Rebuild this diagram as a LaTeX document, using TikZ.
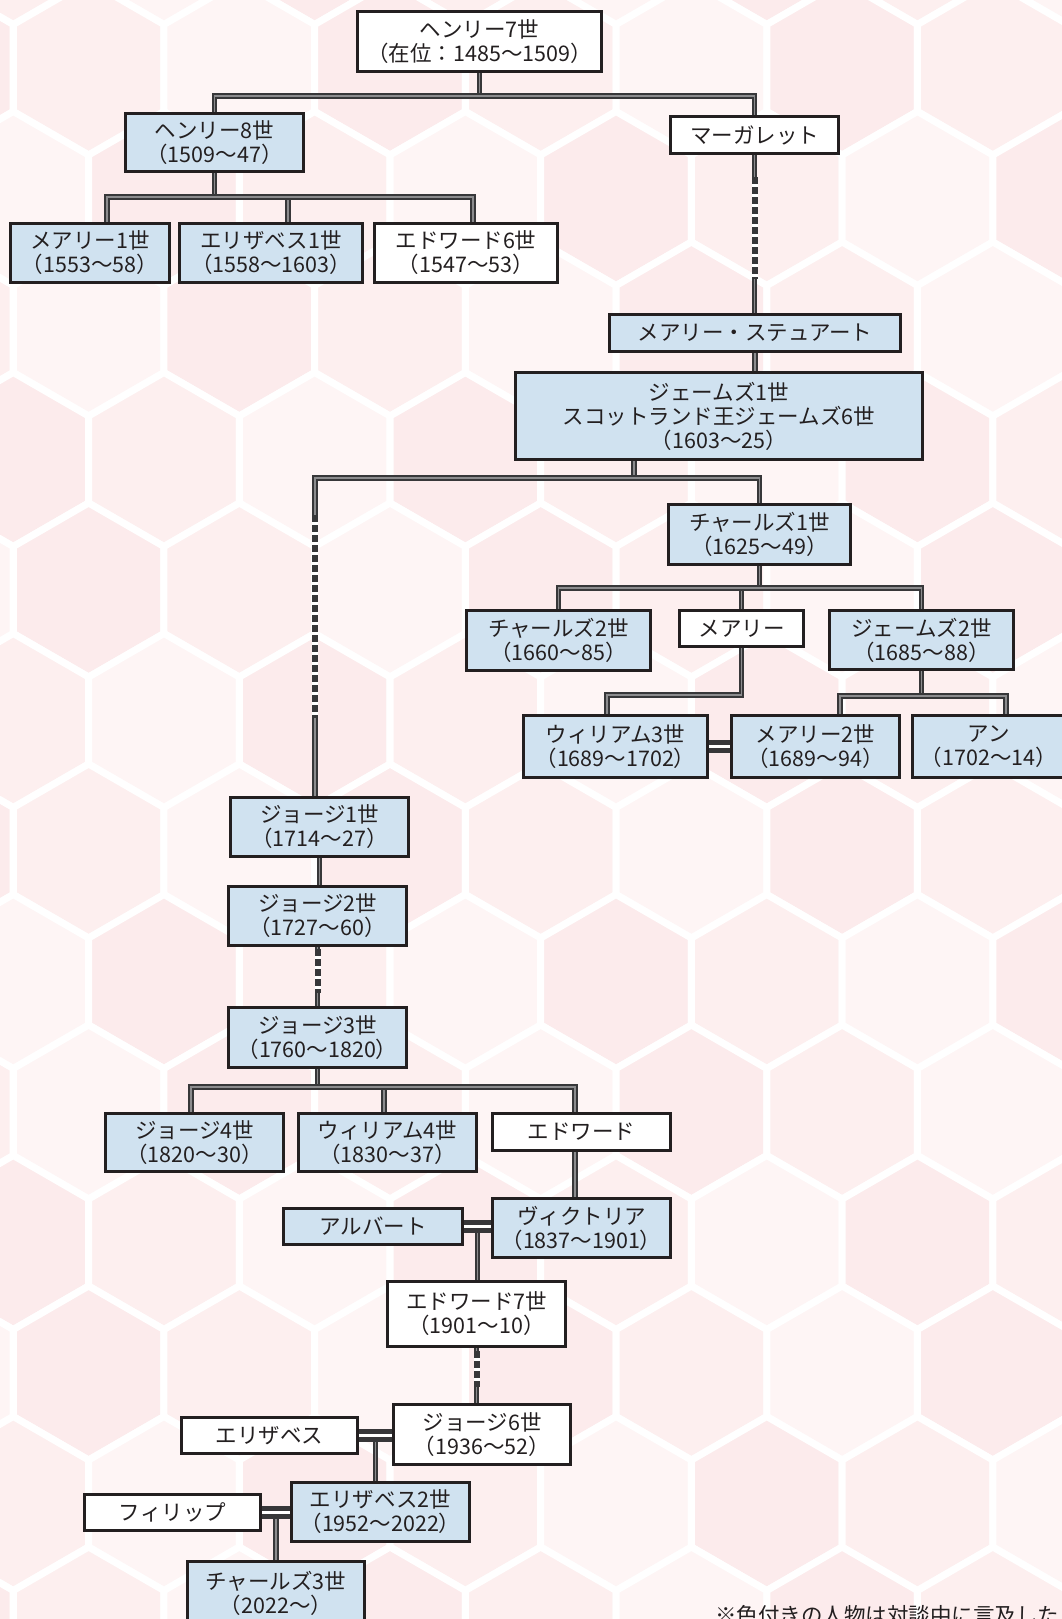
\documentclass[tikz,border=0pt]{standalone}
\usepackage{fontspec}
\setmainfont{Noto Sans CJK JP}
\usetikzlibrary{calc}
\definecolor{pk0}{RGB}{253,239,239}
\definecolor{pk1}{RGB}{254,245,245}
\definecolor{pk2}{RGB}{252,235,236}
\definecolor{lblue}{RGB}{208,226,240}
\definecolor{frame}{RGB}{35,31,32}
\definecolor{txt}{RGB}{35,31,32}
\definecolor{lnk}{RGB}{55,55,57}
\definecolor{lcore}{RGB}{140,140,142}
\newcommand\famnode[7]{\node[#6, minimum width={#3-#2-2.6}, minimum height={#5-#4-2.6}] (#1) at ({(#2+#3)/2},{(#4+#5)/2}) {#7};}
\tikzset{
  person/.style={draw=frame, line width=2.6pt, fill=white, text=txt, align=center, inner sep=0pt, anchor=center, font=\fontsize{21.5}{24}\selectfont},
  royal/.style={person, fill=lblue},
  conn/.style={draw=lnk, line width=1.8pt, double=lcore, double distance=1.6pt},
  dconn/.style={draw=white, line width=6pt, postaction={draw=lnk, line width=6pt, dash pattern=on 7pt off 3pt}},
  marr/.style={draw=lnk, line width=4.5pt, double=white, double distance=3.5pt},
  notetext/.style={anchor=base west, inner sep=0pt, text=txt, font=\fontsize{21.5}{24}\selectfont}
}
\begin{document}
\begin{tikzpicture}[x=1pt,y=-1pt]
\clip (0,0) rectangle (1062,1619);
\fill[white] (0,0) rectangle (1062,1619);
% background hexagon pattern
\foreach \i in {0,...,13}{
  \foreach \c in {-3,...,5}{
    \pgfmathsetmacro{\hx}{390+150.7*\c+75.35*(1-mod(\i,2))}
    \pgfmathsetmacro{\hy}{-62.5+130.5*\i}
    \pgfmathtruncatemacro{\hk}{mod(\c+2*\i+9,3)}
    \filldraw[fill=pk\hk, draw=white, line width=7pt] (\hx,\hy) +(90:87) -- +(30:87) -- +(-30:87) -- +(-90:87) -- +(-150:87) -- +(150:87) -- cycle;
  }
}
% people
\famnode{h7}{356}{603}{10}{73}{person}{ヘンリー7世\\（在位：1485～1509）}
\famnode{h8}{124}{305}{112}{173}{royal}{ヘンリー8世\\（1509～47）}
\famnode{marg}{669}{840}{115}{155}{person}{マーガレット}
\famnode{m1}{9}{171}{222}{284}{royal}{メアリー1世\\（1553～58）}
\famnode{e1}{178}{364}{222}{284}{royal}{エリザベス1世\\（1558～1603）}
\famnode{ed6}{373}{559}{222}{284}{person}{エドワード6世\\（1547～53）}
\famnode{mst}{608}{902}{313}{353}{royal}{メアリー・ステュアート}
\famnode{j1}{514}{924}{371}{461}{royal}{ジェームズ1世\\スコットランド王ジェームズ6世\\（1603～25）}
\famnode{c1}{667}{852}{503}{566}{royal}{チャールズ1世\\（1625～49）}
\famnode{c2}{465}{652}{609}{672}{royal}{チャールズ2世\\（1660～85）}
\famnode{mary}{678}{805}{609}{648}{person}{メアリー}
\famnode{j2}{828}{1015}{609}{671}{royal}{ジェームズ2世\\（1685～88）}
\famnode{w3}{522}{709}{714}{779}{royal}{ウィリアム3世\\（1689～1702）}
\famnode{m2}{730}{901}{714}{779}{royal}{メアリー2世\\（1689～94）}
\famnode{anne}{911}{1067}{714}{779}{royal}{アン\\（1702～14）}
\famnode{g1}{229}{410}{796}{858}{royal}{ジョージ1世\\（1714～27）}
\famnode{g2}{227}{408}{885}{947}{royal}{ジョージ2世\\（1727～60）}
\famnode{g3}{227}{408}{1006}{1069}{royal}{ジョージ3世\\（1760～1820）}
\famnode{g4}{104}{285}{1112}{1173}{royal}{ジョージ4世\\（1820～30）}
\famnode{w4}{297}{478}{1112}{1173}{royal}{ウィリアム4世\\（1830～37）}
\famnode{edw}{491}{672}{1112}{1152}{person}{エドワード}
\famnode{vic}{491}{672}{1197}{1259}{royal}{ヴィクトリア\\（1837～1901）}
\famnode{alb}{282}{464}{1207}{1246}{royal}{アルバート}
\famnode{ed7}{386}{567}{1280}{1348}{person}{エドワード7世\\（1901～10）}
\famnode{g6}{392}{572}{1403}{1466}{person}{ジョージ6世\\（1936～52）}
\famnode{eliz}{180}{359}{1416}{1455}{person}{エリザベス}
\famnode{e2}{290}{471}{1481}{1543}{royal}{エリザベス2世\\（1952～2022）}
\famnode{phil}{83}{262}{1493}{1532}{person}{フィリップ}
\famnode{c3}{186}{366}{1560}{1626}{royal}{チャールズ3世\\（2022～）}
\node[notetext] (note) at (715,1623) {※色付きの人物は対談中に言及した人};
% connectors
\coordinate (k1) at (480,96);
\draw[conn] (h7.south) -- (h7.south |- k1);
\draw[conn] (h8.north) |- (k1) -| (marg.north);
\coordinate (k2) at (212,197);
\coordinate (k2a) at (107,197);
\coordinate (k2b) at (288,197);
\coordinate (k2c) at (473,197);
\draw[conn] (h8.south) -- (h8.south |- k2);
\draw[conn] (k2b) -- (e1.north -| k2b);
\draw[conn] (m1.north -| k2a) -- (k2a) -- (k2c) -- (ed6.north -| k2c);
\draw[conn] (marg.south) -- (mst.north -| marg.south);
\draw[dconn] ([yshift=-22pt]marg.south) -- ([yshift=34pt]mst.north -| marg.south);
\draw[conn] (mst.south) -- (mst.south |- j1.north);
\coordinate (k3) at (634,478);
\coordinate (k3a) at (315,478);
\draw[conn] (j1.south -| k3) -- (k3);
\draw[conn] (g1.north -| k3a) -- (k3a) -| (c1.north);
\draw[dconn] ([yshift=-37pt]k3a) -- ([yshift=78pt]g1.north -| k3a);
\coordinate (k4) at (759,588);
\draw[conn] (c1.south) -- (c1.south |- k4);
\draw[conn] (k4 -| mary.north) -- (mary.north);
\draw[conn] (c2.north) |- (k4) -| (j2.north);
\coordinate (k5) at (607,695);
\draw[conn] (mary.south) |- (k5) -- (w3.north -| k5);
\coordinate (k6) at (840,696);
\coordinate (k6b) at (1006,696);
\draw[conn] (j2.south) -- (j2.south |- k6);
\draw[conn] (m2.north -| k6) -- (k6) -- (k6b) -- (anne.north -| k6b);
\draw[marr] (w3.east) -- (m2.west);
\draw[conn] (g1.south) -- (g1.south |- g2.north);
\draw[conn] (g2.south) -- (g2.south |- g3.north);
\draw[dconn] ([yshift=-2pt]g2.south) -- ([yshift=13pt]g2.south |- g3.north);
\coordinate (k7) at (315,1087);
\coordinate (k7a) at (191,1087);
\coordinate (k7b) at (384,1087);
\coordinate (k7c) at (575,1087);
\draw[conn] (g3.south) -- (g3.south |- k7);
\draw[conn] (k7b) -- (w4.north -| k7b);
\draw[conn] (g4.north -| k7a) -- (k7a) -- (k7c) -- (edw.north -| k7c);
\draw[conn] (edw.south -| k7c) -- (vic.north -| k7c);
\coordinate (k8) at ($(alb.east)!0.5!(alb.east -| vic.west)$);
\draw[conn] (k8) -- (ed7.north -| k8);
\draw[marr] (alb.east) -- (alb.east -| vic.west);
\draw[conn] (ed7.south) -- (ed7.south |- g6.north);
\draw[dconn] ([yshift=-3pt]ed7.south) -- ([yshift=16pt]ed7.south |- g6.north);
\coordinate (k9) at ($(eliz.east)!0.5!(eliz.east -| g6.west)$);
\draw[conn] (k9) -- (e2.north -| k9);
\draw[marr] (eliz.east) -- (eliz.east -| g6.west);
\coordinate (k10) at ($(phil.east)!0.5!(phil.east -| e2.west)$);
\draw[conn] (k10) -- (c3.north -| k10);
\draw[marr] (phil.east) -- (phil.east -| e2.west);
\end{tikzpicture}
\end{document}
